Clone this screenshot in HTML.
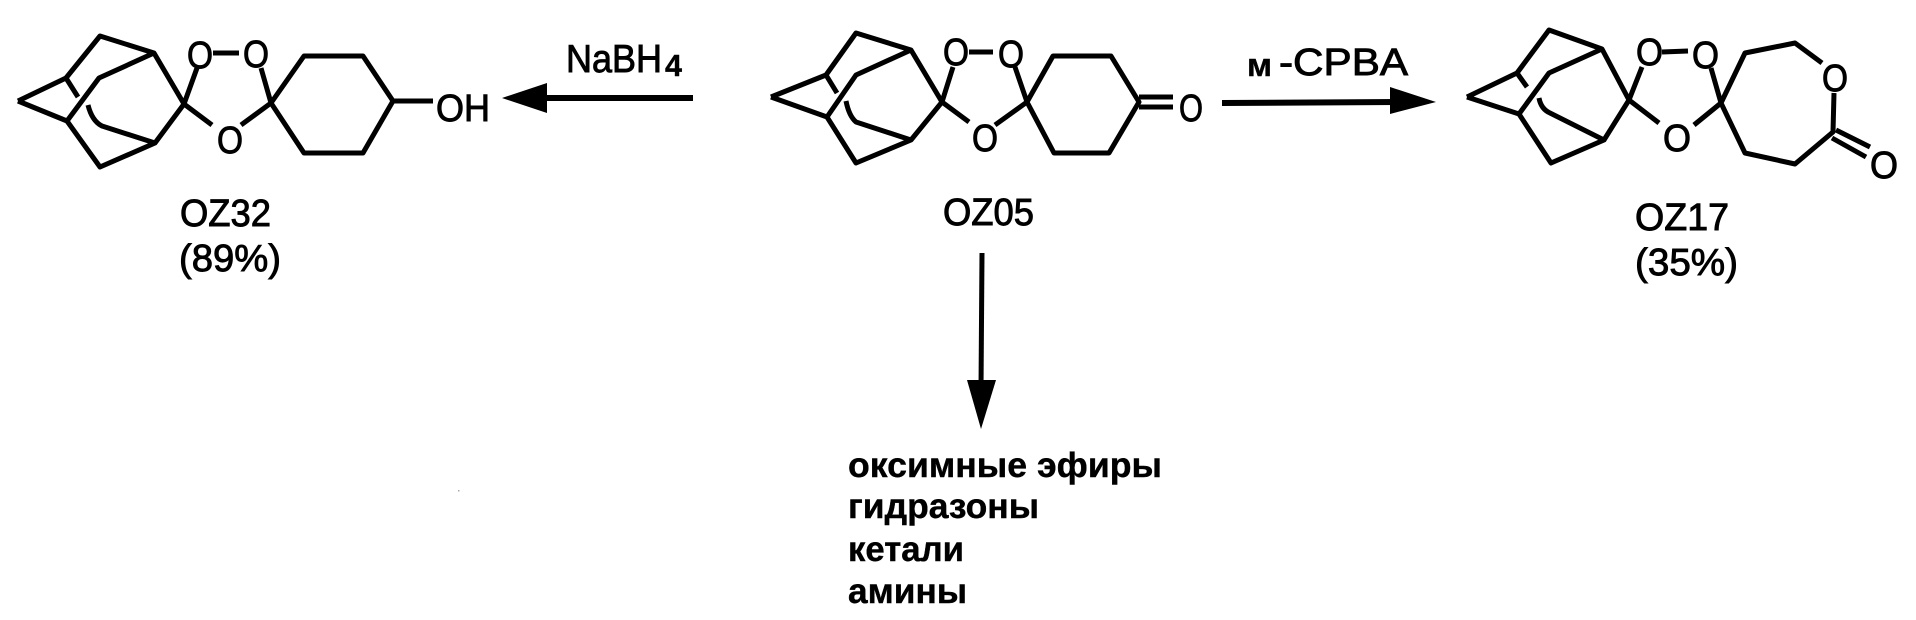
<!DOCTYPE html>
<html><head><meta charset="utf-8"><style>
html,body{margin:0;padding:0;background:#fff;width:1916px;height:620px;overflow:hidden}
svg{display:block}
text{font-family:"Liberation Sans",sans-serif;fill:#000;stroke:#000;stroke-width:.9}
.b{font-weight:bold;stroke-width:.4}
path{fill:none;stroke:#000;stroke-width:5;stroke-linejoin:round;stroke-linecap:butt}
.t{stroke-width:6}
</style></head><body>
<svg width="1916" height="620" viewBox="0 0 1916 620" xmlns="http://www.w3.org/2000/svg">
<!-- Left molecule -->
<path d="M18 101L66 78L100 36L154 53L184 104L155 143L100 167L67 121L18 101"/>
<path d="M66 78L78 97M67 121L99 78L154 53M88 105Q92 121 102 126L155 143"/>
<path d="M184 104L197 68M184 104L212 125M213 53L239 53M271 103L261 68M271 103L241 125"/>
<path d="M271 103L304 56L363 56L393 101L363 153L304 153L271 103M393 101L433 101"/>
<text x="187" y="68" font-size="38" textLength="26" lengthAdjust="spacingAndGlyphs">O</text>
<text x="243" y="67" font-size="38" textLength="26" lengthAdjust="spacingAndGlyphs">O</text>
<text x="217" y="153" font-size="38" textLength="26" lengthAdjust="spacingAndGlyphs">O</text>
<text x="436" y="121" font-size="38" textLength="54" lengthAdjust="spacingAndGlyphs">OH</text>
<text x="180" y="226" font-size="38" textLength="91" lengthAdjust="spacingAndGlyphs">OZ32</text>
<text x="179" y="271" font-size="38" textLength="102" lengthAdjust="spacingAndGlyphs">(89%)</text>
<!-- NaBH4 arrow -->
<text x="566" y="72" font-size="39" textLength="96" lengthAdjust="spacingAndGlyphs">NaBH</text>
<text x="665" y="76" font-size="31" class="b" textLength="17" lengthAdjust="spacingAndGlyphs">4</text>
<path class="t" d="M693 98L540 98"/>
<polygon points="502,98 547,83 547,113" fill="#000"/>
<!-- Center molecule -->
<path d="M771 97L826 75L856 33L911 50L942 102L911 140L856 163L827 117L771 97"/>
<path d="M826 75L837 93M827 117L856 75L911 50M846 101Q849 116 856 122L911 140"/>
<path d="M942 102L953 67M942 102L969 122M969 52L993 52M1027 102L1015 67M1027 102L995 125"/>
<path d="M1027 102L1053 56L1111 56L1139 102L1109 153L1054 153L1027 102"/>
<path d="M1139 97L1173 97M1139 107L1173 107"/>
<text x="943" y="65" font-size="38" textLength="26" lengthAdjust="spacingAndGlyphs">O</text>
<text x="998" y="67" font-size="38" textLength="26" lengthAdjust="spacingAndGlyphs">O</text>
<text x="972" y="151" font-size="38" textLength="26" lengthAdjust="spacingAndGlyphs">O</text>
<text x="1179" y="121" font-size="38" textLength="24" lengthAdjust="spacingAndGlyphs">O</text>
<text x="943" y="225" font-size="38" textLength="91" lengthAdjust="spacingAndGlyphs">OZ05</text>
<!-- m-CPBA arrow -->
<text x="1247" y="76" font-size="32" class="b" textLength="25" lengthAdjust="spacingAndGlyphs">м</text>
<text x="1279" y="75" font-size="38" textLength="129" lengthAdjust="spacingAndGlyphs">-CPBA</text>
<path class="t" d="M1222 103L1400 102"/>
<polygon points="1436,102 1390,87 1390,114" fill="#000"/>
<!-- Right molecule -->
<path d="M1467 97L1517 73L1549 30L1602 49L1629 100L1604 140L1551 163L1519 114L1467 97"/>
<path d="M1517 73L1527 87M1519 114L1549 73L1602 49M1539 98Q1541 109 1550 113L1604 140"/>
<path d="M1629 100L1642 67M1629 100L1659 123M1662 52L1688 51M1721 103L1711 68M1721 103L1694 125"/>
<path d="M1721 103L1745 53L1795 43L1822 63M1834 93L1833 132L1795 164L1745 153L1721 103"/>
<path d="M1836 130L1870 147M1832 138L1866 157"/>
<text x="1636" y="65" font-size="38" textLength="27" lengthAdjust="spacingAndGlyphs">O</text>
<text x="1692" y="68" font-size="38" textLength="27" lengthAdjust="spacingAndGlyphs">O</text>
<text x="1663" y="151" font-size="38" textLength="28" lengthAdjust="spacingAndGlyphs">O</text>
<text x="1822" y="91" font-size="38" textLength="26" lengthAdjust="spacingAndGlyphs">O</text>
<text x="1870" y="178" font-size="38" textLength="28" lengthAdjust="spacingAndGlyphs">O</text>
<text x="1635" y="230" font-size="38" textLength="94" lengthAdjust="spacingAndGlyphs">OZ17</text>
<text x="1635" y="275" font-size="38" textLength="103" lengthAdjust="spacingAndGlyphs">(35%)</text>
<!-- Down arrow -->
<path class="t" style="stroke-width:5" d="M982 253L981 390"/>
<polygon points="981,429 967,380 996,380" fill="#000"/>
<!-- Product list -->
<text class="b" x="848" y="477" font-size="35" textLength="314" lengthAdjust="spacingAndGlyphs">оксимные эфиры</text>
<text class="b" x="848" y="518" font-size="35" textLength="191" lengthAdjust="spacingAndGlyphs">гидразоны</text>
<text class="b" x="848" y="561" font-size="35" textLength="116" lengthAdjust="spacingAndGlyphs">кетали</text>
<text class="b" x="848" y="603" font-size="35" textLength="119" lengthAdjust="spacingAndGlyphs">амины</text>
<rect x="458" y="490" width="1.5" height="1.5" fill="#aaa"/>
</svg>
</body></html>
